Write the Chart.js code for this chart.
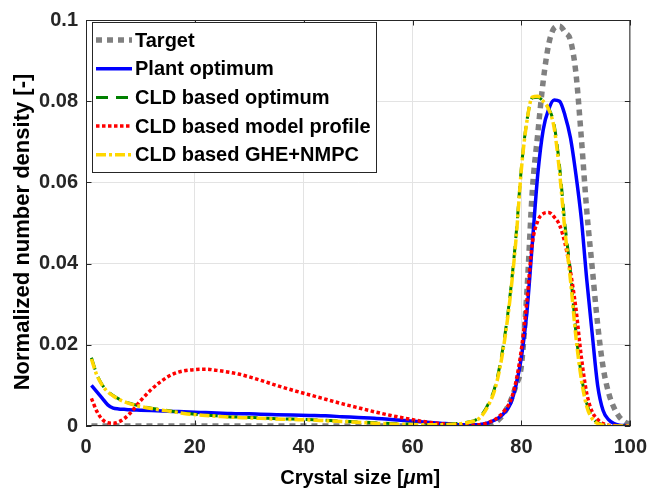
<!DOCTYPE html>
<html>
<head>
<meta charset="utf-8">
<script src="https://cdn.jsdelivr.net/npm/chart.js@4"></script>
<style>
  body { margin: 0; background: #fff; }
  #wrap { width: 656px; height: 491px; }
</style>
</head>
<body>
<div id="wrap"><canvas id="cld" width="656" height="491"></canvas></div>
<script>
// crystal size grid (um)
const sizes = [1,2,3,4,5,6,7,8,10,12,14,16,18,20,22,24,26,28,30,32,35,38,41,44,47,50,53,56,59,62,65,68,
  70,71,72,73,74,75,76,77,78,79,80,81,82,83,84,85,86,87,88,89,90,91,92,93,94,95,96,97,98,99,100];

const target = [0,0,0,0,0,0,0,0,0,0,0,0,0,0,0,0,0,0,0,0,0,0,0,0,0,0,0,0,0,0,0,0,
  0,0,0,0.0002,0.0004,0.0008,0.0018,0.0036,0.0062,0.010,0.015,0.033,0.058,0.072,0.085,0.094,0.098,0.0985,0.097,0.095,0.087,0.071,0.053,0.039,0.025,0.0145,0.0082,0.0045,0.0022,0.001,0.0004];

const plantOpt = [0.0100,0.0084,0.0068,0.0052,0.0044,0.0042,0.0041,0.0040,0.0039,0.0038,0.0037,0.0036,0.0035,0.0034,0.0033,0.0032,0.0031,0.0030,0.0030,0.0029,0.0028,0.0027,0.0026,0.0025,0.0023,0.0021,0.0019,0.0016,0.0013,0.0010,0.0007,0.0004,
  0.0003,0.0003,0.0003,0.0005,0.0008,0.0014,0.0022,0.0035,0.0055,0.010,0.017,0.028,0.045,0.062,0.073,0.078,0.0803,0.080,0.0765,0.071,0.062,0.051,0.036,0.0227,0.010,0.0038,0.0016,0.0006,0.0002,0.0001,0];

const cldOpt = [0.0168,0.0127,0.0101,0.0085,0.0075,0.0067,0.0061,0.0056,0.0049,0.0044,0.0040,0.0036,0.0032,0.0029,0.0027,0.0025,0.0023,0.0022,0.0021,0.0020,0.0018,0.0017,0.0016,0.0014,0.0012,0.0010,0.0008,0.0006,0.0005,0.0004,0.0004,0.0006,
  0.0009,0.0012,0.0018,0.0033,0.0057,0.0090,0.0147,0.0228,0.0333,0.0468,0.0638,0.0752,0.0808,0.0810,0.0800,0.0782,0.0742,0.0640,0.0495,0.0380,0.0232,0.0125,0.0056,0.0022,0.0008,0.0003,0.0001,0,0,0,0];

const modelProfile = [0.0068,0.0036,0.0016,0.0008,0.0007,0.0010,0.0018,0.0030,0.0062,0.0090,0.0112,0.0128,0.0136,0.0139,0.0140,0.0137,0.0133,0.0128,0.0121,0.0113,0.0100,0.0088,0.0077,0.0066,0.0055,0.0045,0.0035,0.0026,0.0018,0.0011,0.0006,0.0003,
  0.0002,0.0002,0.0003,0.0005,0.0009,0.0015,0.0025,0.0040,0.0062,0.0110,0.0190,0.0308,0.0450,0.0505,0.0523,0.0526,0.0515,0.0495,0.0450,0.0380,0.0290,0.0170,0.0080,0.0035,0.0016,0.0006,0.0002,0.0001,0,0,0];

const gheNmpc = [0.0165,0.0125,0.0100,0.0084,0.0074,0.0066,0.0060,0.0055,0.0048,0.0043,0.0039,0.0035,0.0031,0.0028,0.0026,0.0024,0.0022,0.0021,0.0020,0.0019,0.0017,0.0016,0.0015,0.0013,0.0011,0.0009,0.0007,0.0005,0.0004,0.0003,0.0003,0.0005,
  0.0008,0.0011,0.0016,0.0030,0.0053,0.0085,0.0140,0.0220,0.0325,0.0460,0.0634,0.0750,0.0810,0.0812,0.0800,0.0780,0.0735,0.0625,0.0480,0.0360,0.0220,0.0115,0.0048,0.0018,0.0006,0.0002,0.0001,0,0,0,0];

const xTicks = [0, 20, 40, 60, 80, 100];
const yTicks = [0, 0.02, 0.04, 0.06, 0.08, 0.1];
const yTickLabels = ["0", "0.02", "0.04", "0.06", "0.08", "0.1"];

const FONT = '"Liberation Sans", Arial, Helvetica, sans-serif';
const INK = "#262626";

function pts(arr) {
  return sizes.map((x, i) => ({ x: x, y: arr[i] }));
}

const series = [
  { label: "Target", data: target, color: "#808080", width: 5.5, dash: [6, 5], order: 5 },
  { label: "Plant optimum", data: plantOpt, color: "#0000ff", width: 3.5, dash: [], order: 4 },
  { label: "CLD based optimum", data: cldOpt, color: "#008000", width: 3, dash: [12, 8], order: 3 },
  { label: "CLD based model profile", data: modelProfile, color: "#ff0000", width: 3.5, dash: [3.5, 2.5], order: 2 },
  { label: "CLD based GHE+NMPC", data: gheNmpc, color: "#ffd700", width: 3.5, dash: [10, 3, 3, 3], order: 1 }
];

// box, inward ticks, legend and axis titles drawn MATLAB style
const matlabDecor = {
  id: "matlabDecor",
  afterDatasetsDraw(chart) {
    const ctx = chart.ctx;
    const a = chart.chartArea;
    const xs = chart.scales.x, ys = chart.scales.y;
    ctx.save();
    ctx.strokeStyle = INK;
    ctx.lineWidth = 1;
    ctx.setLineDash([]);
    ctx.strokeRect(a.left + 0.5, a.top + 0.5, a.right - a.left - 1, a.bottom - a.top - 1);
    const tl = 5.5;
    ctx.beginPath();
    xTicks.forEach(v => {
      const px = Math.round(xs.getPixelForValue(v)) + 0.5;
      ctx.moveTo(px, a.bottom); ctx.lineTo(px, a.bottom - tl);
      ctx.moveTo(px, a.top); ctx.lineTo(px, a.top + tl);
    });
    yTicks.forEach(v => {
      const py = Math.round(ys.getPixelForValue(v)) + 0.5;
      ctx.moveTo(a.left, py); ctx.lineTo(a.left + tl, py);
      ctx.moveTo(a.right, py); ctx.lineTo(a.right - tl, py);
    });
    ctx.stroke();

    // legend
    const lx = 92, ly = 22, lw = 284, lh = 150;
    ctx.fillStyle = "#fff";
    ctx.fillRect(lx, ly, lw, lh);
    ctx.strokeStyle = INK;
    ctx.strokeRect(lx + 0.5, ly + 0.5, lw, lh);
    ctx.font = "bold 20px " + FONT;
    ctx.textBaseline = "middle";
    ctx.textAlign = "left";
    series.forEach((s, i) => {
      const cy = 40 + i * 28.7;
      ctx.strokeStyle = s.color;
      ctx.lineWidth = s.width;
      ctx.setLineDash(s.dash);
      ctx.beginPath();
      ctx.moveTo(96, cy); ctx.lineTo(132, cy);
      ctx.stroke();
      ctx.fillStyle = "#000";
      ctx.fillText(s.label, 135, cy + 1);
    });
    ctx.restore();
  },
  afterDraw(chart) {
    const ctx = chart.ctx;
    const a = chart.chartArea;
    ctx.save();
    ctx.fillStyle = "#000";
    ctx.textBaseline = "middle";
    // x title with italic mu
    const parts = [["bold 20px ", "Crystal size ["], ["italic bold 20px ", "\u03bc"], ["bold 20px ", "m]"]];
    let total = 0;
    parts.forEach(p => { ctx.font = p[0] + FONT; total += ctx.measureText(p[1]).width; });
    let x = (a.left + a.right) / 2 + 2 - total / 2;
    ctx.textAlign = "left";
    parts.forEach(p => {
      ctx.font = p[0] + FONT;
      ctx.fillText(p[1], x, 478);
      x += ctx.measureText(p[1]).width;
    });
    // y title
    ctx.translate(23, 232);
    ctx.rotate(-Math.PI / 2);
    ctx.textAlign = "center";
    ctx.font = "bold 22px " + FONT;
    ctx.fillText("Normalized number density [-]", 0, 0);
    ctx.restore();
  }
};

new Chart(document.getElementById("cld"), {
  type: "line",
  data: {
    datasets: series.map(s => ({
      label: s.label,
      data: pts(s.data),
      borderColor: s.color,
      borderWidth: s.width,
      borderDash: s.dash,
      borderCapStyle: "butt",
      pointRadius: 0,
      fill: false,
      cubicInterpolationMode: "monotone",
      order: s.order
    }))
  },
  options: {
    responsive: false,
    animation: false,
    layout: { padding: { top: 17, right: 18, left: 0, bottom: 0 } },
    plugins: { legend: { display: false }, tooltip: { enabled: false } },
    scales: {
      x: {
        type: "linear",
        min: 0, max: 100,
        afterFit: s => { s.height = 65; },
        afterBuildTicks: s => { s.ticks = xTicks.map(v => ({ value: v })); },
        ticks: { color: INK, font: { family: FONT, size: 20, weight: "bold" }, padding: 9, maxRotation: 0 },
        grid: { color: "#e3e3e3", drawTicks: false },
        border: { display: false }
      },
      y: {
        type: "linear",
        min: 0, max: 0.1,
        afterFit: s => { s.width = 86; },
        afterBuildTicks: s => { s.ticks = yTicks.map(v => ({ value: v })); },
        ticks: {
          color: INK, font: { family: FONT, size: 20, weight: "bold" }, padding: 8,
          callback: (v) => yTickLabels[yTicks.indexOf(v)]
        },
        grid: { color: "#e3e3e3", drawTicks: false },
        border: { display: false }
      }
    }
  },
  plugins: [matlabDecor]
});
</script>
</body>
</html>
